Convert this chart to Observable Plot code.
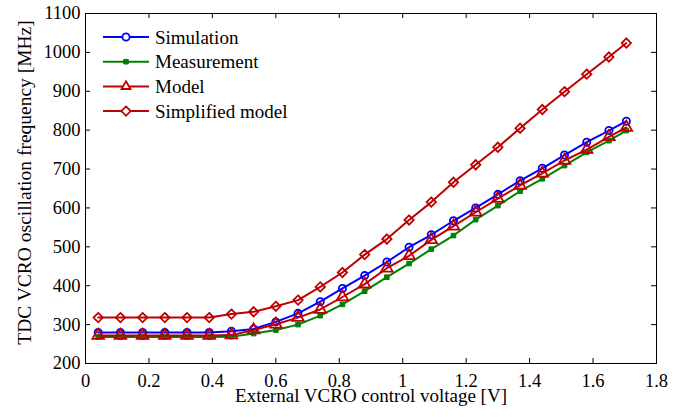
<!DOCTYPE html>
<html><head><meta charset="utf-8">
<script src="https://cdn.jsdelivr.net/npm/d3@7"></script>
<script src="https://cdn.jsdelivr.net/npm/@observablehq/plot@0.6"></script>
<style>
body{margin:0;background:#fff;}
#wrap{position:relative;width:682px;height:417px;}
#wrap svg, #wrap svg text, #wrap svg g{font-family:'Liberation Serif','Times New Roman',serif !important;font-variant:normal !important;}
#legend{position:absolute;left:0;top:0;pointer-events:none;}
</style></head><body><div id="wrap"></div>
<script>
const voltage = [0.04,0.11,0.18,0.25,0.32,0.39,0.46,0.53,0.60,0.67,0.74,0.81,0.88,0.95,1.02,1.09,1.16,1.23,1.30,1.37,1.44,1.51,1.58,1.65,1.705];
const simulation = [280,280,280,280,280,280,283,289,307,329,359,393,426,461,499,531,567,600,635,670,702,736,769,799,823];
const measurement = [268,268,268,268,268,268,269,277,286,300,323,352,386,422,457,494,529,570,606,643,675,709,743,773,799];
const model = [272,272,272,272,272,272,273,286,301,318,339,371,404,445,477,518,553,589,624,658,689,722,750,783,807];
const simplified = [318,318,318,318,318,318,327,333,347,363,397,434,480,520,569,615,666,711,756,805,853,899,944,988,1024];
const xTicks = [0,0.2,0.4,0.6,0.8,1,1.2,1.4,1.6,1.8];
const yTicks = [200,300,400,500,600,700,800,900,1000,1100];
const seriesNames = ["Simulation","Measurement","Model","Simplified model"];
const seriesColors = ["#0000ff","#008000","#bf0000","#bf0000"];
const seriesSymbols = ["circle","square","triangle","diamond2"];

const seriesValues = [simulation, measurement, model, simplified];
const rows = seriesValues.flatMap((vals, s) => vals.map((v, i) => ({x: voltage[i], y: v, s: seriesNames[s]})));

const W = 682, H = 417, mL = 85, mR = 26, mT = 13, mB = 54;
const innerH = H - mT - mB, innerW = W - mL - mR;
const font = "'Liberation Serif', 'Times New Roman', serif";

const marks = [
  Plot.frame({stroke: "#000", strokeWidth: 1}),
  Plot.tickX(xTicks, {x: d => d, insetTop: innerH - 5, stroke: "#000"}),
  Plot.tickX(xTicks, {x: d => d, insetBottom: innerH - 5, stroke: "#000"}),
  Plot.tickY(yTicks, {y: d => d, insetRight: innerW - 5, stroke: "#000"}),
  Plot.tickY(yTicks, {y: d => d, insetLeft: innerW - 5, stroke: "#000"}),
  Plot.axisX(xTicks, {tickSize: 0, tickPadding: 10, label: null, tickFormat: d => String(d), fontFamily: font, fontSize: 18.5, fill: "#000"}),
  Plot.axisY(yTicks, {tickSize: 0, tickPadding: 5, label: null, tickFormat: d => String(d), fontFamily: font, fontSize: 18.5, fill: "#000"}),
  Plot.text(["External VCRO control voltage [V]"], {frameAnchor: "bottom", lineAnchor: "bottom", dy: 38, fontSize: 19, fontFamily: font, fill: "#000"}),
  Plot.text(["TDC VCRO oscillation frequency [MHz]"], {frameAnchor: "left", textAnchor: "middle", lineAnchor: "middle", dx: -61, dy: -6, rotate: -90, fontSize: 19.5, fontFamily: font, fill: "#000"})
];
seriesNames.forEach((name, s) => {
  const d = rows.filter(r => r.s === name);
  marks.push(Plot.line(d, {x: "x", y: "y", stroke: seriesColors[s], strokeWidth: 2}));
  marks.push(Plot.dot(d, {
    x: "x", y: "y", symbol: () => seriesSymbols[s],
    r: s === 0 ? 3.6 : s === 1 ? 2.6 : s === 2 ? 4.3 : 4.2,
    stroke: seriesColors[s], strokeWidth: s === 1 ? 1 : 1.8,
    fill: s === 1 ? seriesColors[s] : "none"
  }));
});

const chart = Plot.plot({
  width: W, height: H,
  marginLeft: mL, marginRight: mR, marginTop: mT, marginBottom: mB,
  style: {fontFamily: font, fontSize: "19px", color: "#000", background: "#fff", overflow: "visible"},
  x: {domain: [0, 1.8]},
  y: {domain: [200, 1100]},
  symbol: {type: "identity"},
  marks
});
document.getElementById("wrap").appendChild(chart);

// legend overlay
const leg = d3.select("#wrap").append("svg").attr("id", "legend").attr("width", W).attr("height", H);
const legY0 = 37, legStep = 24.7;
seriesNames.forEach((name, s) => {
  const y = legY0 + s * legStep;
  leg.append("line").attr("x1", 103).attr("x2", 149).attr("y1", y).attr("y2", y)
    .attr("stroke", seriesColors[s]).attr("stroke-width", 2);
  const symType = [d3.symbolCircle, d3.symbolSquare, d3.symbolTriangle2, d3.symbolDiamond2][s];
  const r = [3.6, 2.6, 4.3, 4.2][s];
  leg.append("path").attr("d", d3.symbol(symType, Math.PI * r * r)())
    .attr("transform", `translate(126,${y})`)
    .attr("stroke", seriesColors[s]).attr("stroke-width", s === 1 ? 1 : 1.8)
    .attr("fill", s === 1 ? seriesColors[s] : "#fff");
  leg.append("text").attr("x", 155).attr("y", y).attr("dy", "0.35em")
    .attr("font-family", font).attr("font-size", 19).attr("fill", "#000").text(name);
});
</script></body></html>
